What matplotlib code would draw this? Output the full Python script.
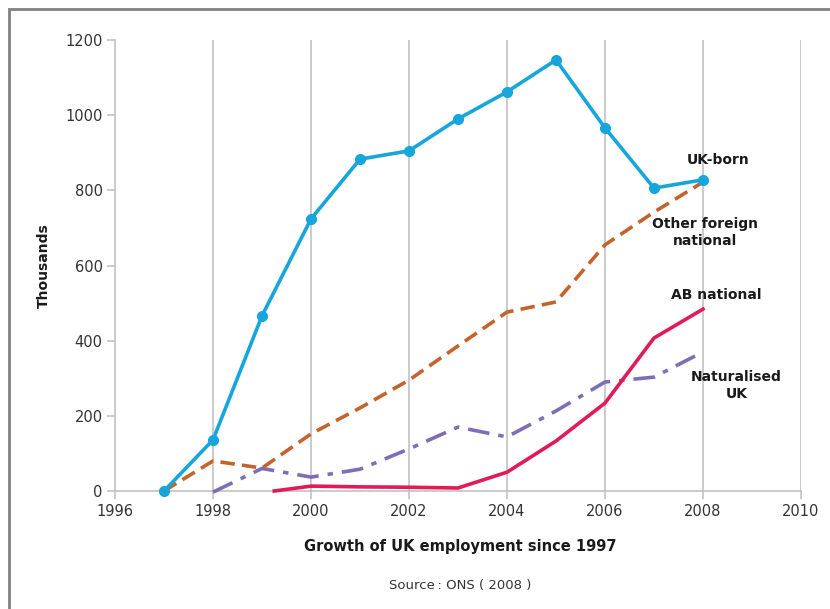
import matplotlib
matplotlib.use("Agg")
import matplotlib.pyplot as plt
from matplotlib.patches import Rectangle

years = [1997, 1998, 1999, 2000, 2001, 2002, 2003, 2004, 2005, 2006, 2007, 2008]
uk_born = [0, 136, 466, 724, 883, 905, 990, 1062, 1147, 966, 806, 828]
other_foreign = [0, 80, 61, 152, 221, 295, 386, 476, 503, 655, 742, 822]
nat_years = [1998, 1999, 2000, 2001, 2002, 2003, 2004, 2005, 2006, 2007, 2008]
naturalised = [-3, 60, 37, 58, 112, 170, 144, 213, 290, 303, 370]
ab_years = [1999.25, 2000, 2001, 2002, 2003, 2004, 2005, 2006, 2007, 2008]
ab_national = [0, 13, 11, 10, 8, 50, 133, 234, 407, 484]

xticks = [1996, 1998, 2000, 2002, 2004, 2006, 2008, 2010]
yticks = [0, 200, 400, 600, 800, 1000, 1200]

c_uk = "#17a6dc"
c_of = "#c2642b"
c_ab = "#e11a58"
c_nat = "#7f6db5"
grid_c = "#bdbdbd"
txt_c = "#333333"

fig = plt.figure(figsize=(8.3, 6.09), dpi=100)
ax = fig.add_axes([115/830, 1-491/609, (801-115)/830, (491-40)/609])
ax.set_xlim(1996, 2010)
ax.set_ylim(0, 1200)

for x in xticks[1:]:
    ax.axvline(x, color=grid_c, lw=1.1, zorder=1)

ax.plot(years, uk_born, color=c_uk, lw=2.6, marker="o", ms=7, zorder=5, clip_on=False)
ax.plot(years, other_foreign, color=c_of, lw=2.6, ls=(0, (4, 2)), zorder=4, clip_on=False)
ax.plot(nat_years, naturalised, color=c_nat, lw=2.6, ls=(0, (6, 2.5, 1.5, 2.5)), zorder=3, clip_on=False)
ax.plot(ab_years, ab_national, color=c_ab, lw=2.6, zorder=4, clip_on=False)

for s in ["top", "right"]:
    ax.spines[s].set_visible(False)
for s in ["left", "bottom"]:
    ax.spines[s].set_color(grid_c)
    ax.spines[s].set_linewidth(1.1)
ax.set_xticks(xticks)
ax.set_yticks(yticks)
ax.tick_params(colors=grid_c, labelcolor=txt_c, labelsize=10.5, length=6, width=1.1, pad=3)

lab = dict(fontsize=10, fontweight="bold", color="#1a1a1a", ha="center", va="center",
           linespacing=1.25)
ax.text(2008.3, 880, "UK-born", **lab)
ax.text(2008.05, 688, "Other foreign\nnational", **lab)
ax.text(2008.27, 522, "AB national", **lab)
ax.text(2008.68, 280, "Naturalised\nUK", **lab)

ax.set_ylabel("Thousands", fontsize=10, fontweight="bold", color="#1a1a1a", labelpad=10)
fig.text(460/830, 1-547/609, "Growth of UK employment since 1997", fontsize=10.5,
         fontweight="bold", color="#1a1a1a", ha="center", va="center")
fig.text(460/830, 1-586/609, "Source\u2009: ONS ( 2008 )", fontsize=9.5, color=txt_c,
         ha="center", va="center")

fig.patches.append(Rectangle((9/830, -0.1), 1.2, 1 - 9/609 + 0.1, transform=fig.transFigure,
                             fill=False, edgecolor="#808080", lw=2, zorder=0))

fig.savefig("out.png", dpi=100)
